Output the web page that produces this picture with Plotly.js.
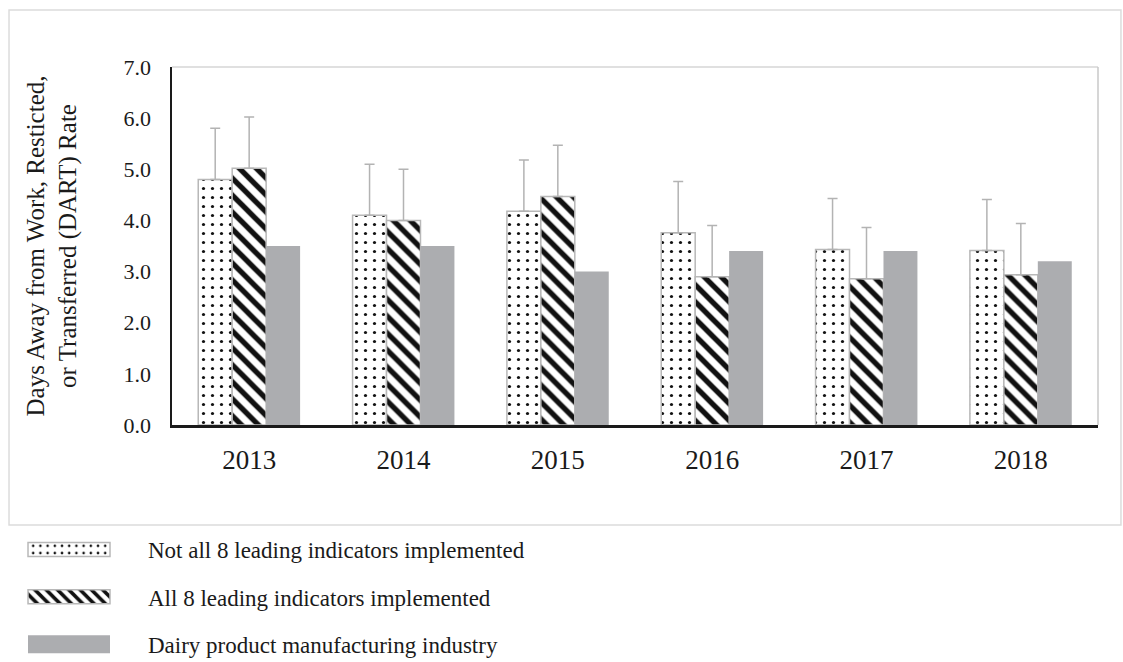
<!DOCTYPE html>
<html>
<head>
<meta charset="utf-8">
<script src="https://cdn.plot.ly/plotly-3.0.1.min.js"></script>
<style>html,body{margin:0;padding:0;background:#fff;}#chart{width:1123px;height:662px;}</style>
</head>
<body>
<div id="chart"></div>
<script>
const years = ["2013", "2014", "2015", "2016", "2017", "2018"];
const notAll = [4.8, 4.1, 4.18, 3.76, 3.43, 3.41];
const notAllErr = [1.0, 1.0, 1.0, 1.0, 1.0, 1.0];
const all8 = [5.02, 4.0, 4.47, 2.9, 2.86, 2.94];
const all8Err = [1.0, 1.0, 1.0, 1.0, 1.0, 1.0];
const dairy = [3.5, 3.5, 3.0, 3.4, 3.4, 3.2];
const seriesNames = ["Not all 8 leading indicators implemented", "All 8 leading indicators implemented", "Dairy product manufacturing industry"];

const errStyle = {type: 'data', symmetric: false, arrayminus: [0,0,0,0,0,0], color: '#b3b3b3', thickness: 1.5, width: 5};

const traces = [
  {type: 'bar', x: years, y: notAll, name: seriesNames[0], legendgroup: 'a',
   marker: {color: '#ffffff', line: {color: '#b8b8b8', width: 1.5},
            pattern: {shape: '.', fgcolor: '#111111', bgcolor: '#ffffff', size: 9, solidity: 0.1}},
   error_y: Object.assign({array: notAllErr}, errStyle)},
  {type: 'bar', x: years, y: all8, name: seriesNames[1], legendgroup: 'b',
   marker: {color: '#ffffff', line: {color: '#b8b8b8', width: 1.5},
            pattern: {shape: '\\', fgcolor: '#111111', bgcolor: '#ffffff', size: 12, solidity: 0.45}},
   error_y: Object.assign({array: all8Err}, errStyle)},
  {type: 'bar', x: years, y: dairy, name: seriesNames[2], legendgroup: 'c',
   marker: {color: '#acadb0', line: {width: 0}}}
];

const layout = {
  width: 1123, height: 662,
  margin: {l: 172, r: 25, t: 67, b: 237, autoexpand: false},
  paper_bgcolor: '#ffffff', plot_bgcolor: '#ffffff',
  font: {family: 'Liberation Serif, Times New Roman, serif', color: '#1a1a1a'},
  barmode: 'group', bargap: 0.34, bargroupgap: 0,
  showlegend: true,
  legend: {x: -0.1771, xanchor: 'left', y: -0.2877, yanchor: 'top', orientation: 'v',
           traceorder: 'grouped', tracegroupgap: 14.5, itemwidth: 130,
           font: {size: 23, color: '#1a1a1a'}, bgcolor: 'rgba(0,0,0,0)'},
  xaxis: {showgrid: false, showline: true, linecolor: '#1a1a1a', linewidth: 2.5, ticks: '',
          tickfont: {size: 27}, ticklabelstandoff: 9, zeroline: false},
  yaxis: {range: [0, 7], dtick: 1, tickformat: '.1f', showgrid: false, showline: true,
          linecolor: '#1a1a1a', linewidth: 2.5, ticks: '', tickfont: {size: 22},
          ticklabelstandoff: 14, zeroline: false,
          title: {text: 'Days Away from Work, Resticted,<br>or Transferred (DART) Rate',
                  font: {size: 25}, standoff: 40}},
  shapes: [
    {type: 'line', xref: 'paper', yref: 'paper', x0: 0, x1: 1, y0: 1, y1: 1, line: {color: '#d6d6d6', width: 1.5}},
    {type: 'line', xref: 'paper', yref: 'paper', x0: 1, x1: 1, y0: 0, y1: 1, line: {color: '#c8c8c8', width: 1.5}},
    {type: 'rect', xref: 'paper', yref: 'paper', x0: -0.176, x1: 1.0248, y0: -0.279, y1: 1.159, line: {color: '#dcdcdc', width: 1.5}, layer: 'below'}
  ]
};

Plotly.newPlot('chart', traces, layout, {displayModeBar: false, staticPlot: true}).then(function () {
  // let the legend run to the page edge instead of being clipped/scrolled
  document.querySelectorAll('.legend [clip-path]').forEach(function (el) { el.removeAttribute('clip-path'); });
  document.querySelectorAll('.legend .scrollbar').forEach(function (el) { el.style.display = 'none'; });
  // widen legend swatches to match the reference's long rectangles
  const heights = [14, 14, 18];
  document.querySelectorAll('.legend .traces').forEach(function (g, i) {
    const txt = g.querySelector('text.legendtext');
    let tx = parseFloat(txt && txt.getAttribute('x'));
    if (!isFinite(tx)) tx = 140;
    const p = g.querySelector('.legendpoints path');
    if (!p) return;
    const h = (heights[i] || 14) / 2;
    p.setAttribute('transform', 'translate(0,0)');
    p.setAttribute('d', 'M' + (tx - 120) + ',' + h + 'H' + (tx - 38) + 'V-' + h + 'H' + (tx - 120) + 'Z');
  });
});
</script>
</body>
</html>
